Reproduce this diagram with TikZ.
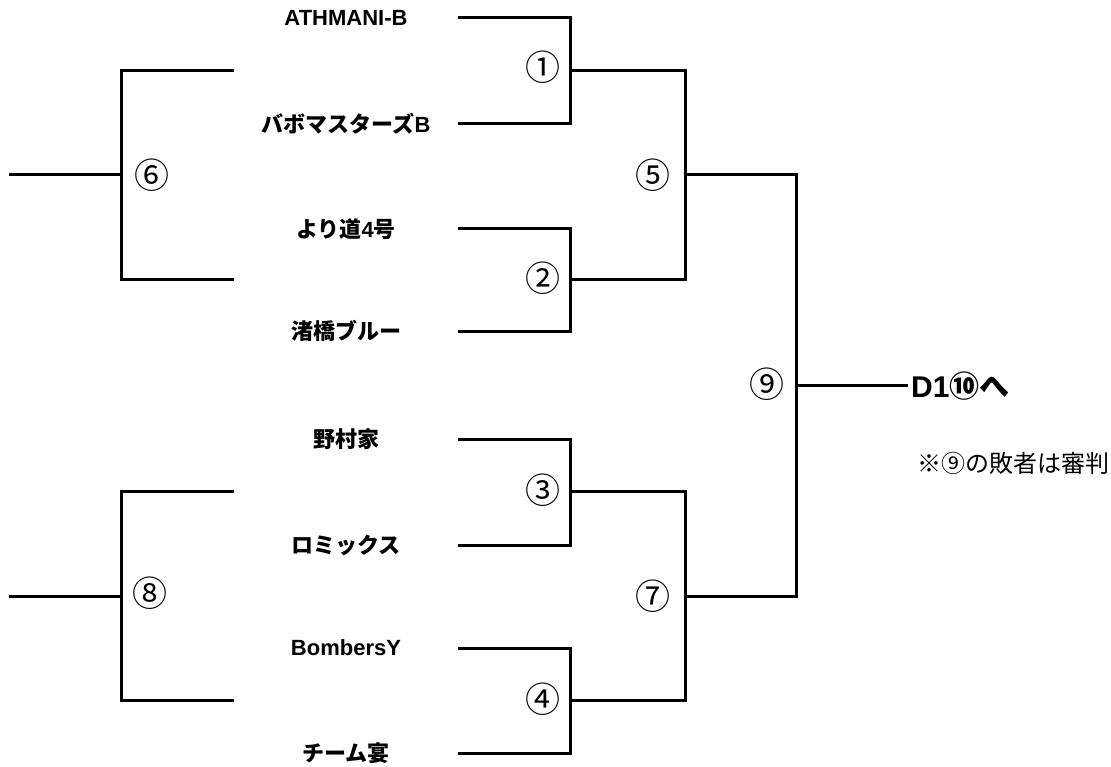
\documentclass[tikz,border=0pt]{standalone}
\usepackage{fontspec}
\setmainfont{Liberation Sans}
\newfontfamily\jp{Noto Sans CJK JP}
\begin{document}
\begin{tikzpicture}[x=1pt,y=-1pt,
  bracket/.style={line width=3pt,line join=miter},
  team/.style={font=\fontsize{22}{22}\selectfont\bfseries,inner sep=0pt,anchor=center},
  num/.style={font=\jp\fontsize{35}{35}\selectfont,inner sep=0pt,anchor=center},
  final/.style={font=\fontsize{30}{30}\selectfont\bfseries,inner sep=0pt,anchor=west},
  note/.style={font=\jp\fontsize{24}{24}\selectfont,inner sep=0pt,anchor=west}]
\useasboundingbox (0,0) rectangle (1111,767);
% team names
\node[team] (t1) at (346,18) {ATHMANI-B};
\node[team] (t2) at (346,124) {{\jp バボマスターズ}B};
\node[team] (t3) at (346,229) {{\jp より道}4{\jp 号}};
\node[team] (t4) at (346,331) {\jp 渚橋ブルー};
\node[team] (t5) at (346,439) {\jp 野村家};
\node[team] (t6) at (346,545) {\jp ロミックス};
\node[team] (t7) at (346,648) {BombersY};
\node[team] (t8) at (346,753) {\jp チーム宴};
% line starts
\coordinate (a1) at (458,18);
\coordinate (b1) at (458,124);
\coordinate (a2) at (458,229);
\coordinate (b2) at (458,331);
\coordinate (a3) at (458,439);
\coordinate (b3) at (458,545);
\coordinate (a4) at (458,648);
\coordinate (b4) at (458,753);
% match joints
\coordinate (m1) at (570,71);
\coordinate (m2) at (570,280);
\coordinate (m3) at (570,491);
\coordinate (m4) at (570,700);
\coordinate (m5) at (685,175);
\coordinate (m7) at (685,596);
\coordinate (m9) at (796,385);
\coordinate (m6) at (121,175);
\coordinate (m8) at (121,596);
\coordinate (e6a) at (234,71);
\coordinate (e6b) at (234,280);
\coordinate (e8a) at (234,491);
\coordinate (e8b) at (234,700);
\coordinate (s6) at (9,175);
\coordinate (s8) at (9,596);
\coordinate (f) at (908,385);
% labels
\node[num] (n1) at (543,67) {①};
\node[num] (n2) at (543,278) {②};
\node[num] (n3) at (543,490) {③};
\node[num] (n4) at (543,699) {④};
\node[num] (n5) at (653,175) {⑤};
\node[num] (n6) at (152,175) {⑥};
\node[num] (n7) at (653,596) {⑦};
\node[num] (n8) at (150,593) {⑧};
\node[num] (n9) at (767,384) {⑨};
\node[final] (d1) at (911,386) {D1{\jp ⑩へ}};
\node[note] (nt) at (917,463) {\jp ※⑨の敗者は審判};
% brackets
\draw[bracket] (a1) -| (m1) |- (b1);
\draw[bracket] (a2) -| (m2) |- (b2);
\draw[bracket] (a3) -| (m3) |- (b3);
\draw[bracket] (a4) -| (m4) |- (b4);
\draw[bracket] (m1) -| (m5) |- (m2);
\draw[bracket] (m3) -| (m7) |- (m4);
\draw[bracket] (m5) -| (m9) |- (m7);
\draw[bracket] (m9) -- (f);
\draw[bracket] (e6a) -| (m6) |- (e6b);
\draw[bracket] (s6) -- (m6);
\draw[bracket] (e8a) -| (m8) |- (e8b);
\draw[bracket] (s8) -- (m8);
\end{tikzpicture}
\end{document}
